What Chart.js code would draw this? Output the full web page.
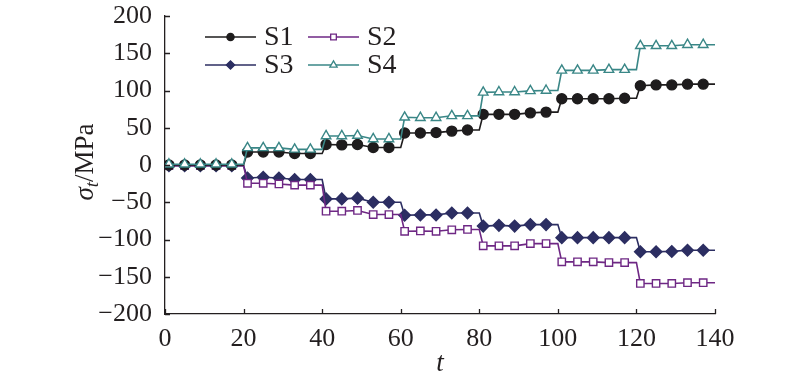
<!DOCTYPE html>
<html><head><meta charset="utf-8">
<script src="https://cdn.jsdelivr.net/npm/chart.js@4/dist/chart.umd.min.js"></script>
<style>html,body{margin:0;padding:0;background:#fff;}</style>
</head><body>
<canvas id="c" width="800" height="379"></canvas>
<script>
// time steps (marker points and stage-end points)
const tValues = [0,
  1,5,9,13,17,20,
  21,25,29,33,37,40,
  41,45,49,53,57,60,
  61,65,69,73,77,80,
  81,85,89,93,97,100,
  101,105,109,113,117,120,
  121,125,129,133,137,140];
// stage-end points (no marker drawn)
const stageEnds = [0,20,40,60,80,100,120,140];

const seriesNames = ['S1','S2','S3','S4'];
const s1 = [0,
  0,0,0,0,0,0,
  17.5,17.5,17.5,15.5,15.5,15.5,
  27.5,27,27.5,23.5,23.5,23.5,
  43,43,43.5,45.5,47,47,
  68,68,68,70,71,71,
  89,89,89,89,89.5,89.5,
  106.5,107.5,107.5,108.5,108.5,108.5];
const s2 = [-1,
  -1,-1,-1,-1,-1,-1,
  -24.5,-24.5,-25.5,-27,-27,-27,
  -62,-62,-61,-66.5,-66.5,-66.5,
  -89,-88.5,-89,-87,-86.5,-86.5,
  -108.5,-108.5,-108.5,-105.5,-105.5,-105.5,
  -130,-130,-130,-131,-131,-131,
  -159,-159,-159,-158,-158,-158];
const s3 = [-1,
  -1,-1,-1,-1,-1,-1,
  -17.5,-16.5,-17.5,-19.5,-19.5,-19.5,
  -45.5,-45.5,-44.5,-50,-50,-50,
  -67.5,-67,-67,-64.5,-64.5,-64.5,
  -82,-81,-82,-80,-80,-80,
  -97.5,-97.5,-97.5,-97.5,-97.5,-97.5,
  -116.5,-116.5,-116,-114.5,-114.5,-114.5];
const s4 = [1,
  1,1,1,1,1,1,
  23,23,23,21,21,21,
  39,39,39.5,35,35,35,
  64,63.5,63.5,66,66,66,
  97.5,98,98,99.5,100,100,
  127,127,127,128,128,128,
  160,160,160,161.5,161.5,161.5];

const xTicks = [0,20,40,60,80,100,120,140];
const yTicks = [-200,-150,-100,-50,0,50,100,150,200];

const INK = '#231f20';
const FONT = "'Liberation Serif', 'Times New Roman', serif";
const styles = [
  {color:'#1e1c1d', fill:'#1e1c1d', shape:'circle', r:5.0, lr:3.6},
  {color:'#6e2784', fill:'#ffffff', shape:'rect', r:5.2, lr:4.0},
  {color:'#2c2e62', fill:'#2c2e62', shape:'rectRot', r:5.8, lr:4.2},
  {color:'#3a8787', fill:'#ffffff', shape:'triangle', r:5.5, lr:4.2}
];
const seriesValues = [s1,s2,s3,s4];

const datasets = seriesValues.map((vals,i)=>({
  label: seriesNames[i],
  data: tValues.map((t,j)=>({x:t, y:vals[j]})),
  borderColor: styles[i].color,
  backgroundColor: styles[i].fill,
  pointBorderColor: styles[i].color,
  pointBackgroundColor: styles[i].fill,
  pointStyle: styles[i].shape,
  pointRadius: c => stageEnds.includes(tValues[c.dataIndex]) ? 0 : styles[i].r,
  pointBorderWidth: 1.4,
  borderWidth: 1.6,
  tension: 0,
  fill: false,
  order: i === 3 ? 0 : (i === 0 ? 1 : 2)
}));

function drawMarker(ctx, shape, x, y, r, stroke, fill){
  ctx.save();
  ctx.beginPath();
  if(shape==='circle'){ ctx.arc(x,y,r,0,Math.PI*2); }
  else if(shape==='rect'){ const s=r*Math.SQRT1_2; ctx.rect(x-s,y-s,2*s,2*s); }
  else if(shape==='rectRot'){ ctx.moveTo(x-r,y); ctx.lineTo(x,y-r); ctx.lineTo(x+r,y); ctx.lineTo(x,y+r); ctx.closePath(); }
  else if(shape==='triangle'){
    let a=0; ctx.moveTo(x+Math.sin(a)*r,y-Math.cos(a)*r);
    a+=2*Math.PI/3; ctx.lineTo(x+Math.sin(a)*r,y-Math.cos(a)*r);
    a+=2*Math.PI/3; ctx.lineTo(x+Math.sin(a)*r,y-Math.cos(a)*r);
    ctx.closePath();
  }
  ctx.fillStyle=fill; ctx.fill();
  ctx.lineWidth=1.3; ctx.strokeStyle=stroke; ctx.stroke();
  ctx.restore();
}

const decor = {
  id:'decor',
  afterDraw(chart){
    const ctx = chart.ctx;
    const a = chart.chartArea;
    const xs = chart.scales.x, ys = chart.scales.y;
    ctx.save();
    // inward tick marks
    ctx.strokeStyle = INK; ctx.lineWidth = 1.3;
    ctx.beginPath();
    xTicks.forEach(v=>{ const px = Math.round(xs.getPixelForValue(v))+0.5; ctx.moveTo(px,a.bottom); ctx.lineTo(px,a.bottom-5); });
    yTicks.forEach(v=>{ const py = Math.round(ys.getPixelForValue(v))+0.5; ctx.moveTo(a.left,py); ctx.lineTo(a.left+5,py); });
    ctx.stroke();

    // legend
    const rows = [[0,1],[2,3]];
    const rowY = [37, 65];
    const colX = [a.left+40, a.left+143];
    rows.forEach((row,ri)=>{
      row.forEach((si,ci)=>{
        const st = styles[si];
        const x0 = colX[ci], y = rowY[ri];
        ctx.strokeStyle = st.color; ctx.lineWidth = 1.6;
        ctx.beginPath(); ctx.moveTo(x0,y); ctx.lineTo(x0+51,y); ctx.stroke();
        drawMarker(ctx, st.shape, x0+25.5, y, st.lr, st.color, st.fill);
        ctx.fillStyle = INK; ctx.font = "28px " + FONT;
        ctx.textAlign='left'; ctx.textBaseline='middle';
        ctx.fillText(seriesNames[si], x0+59, y+1);
      });
    });

    // x title
    ctx.fillStyle = INK;
    ctx.font = "italic 27px " + FONT;
    ctx.textAlign='center'; ctx.textBaseline='alphabetic';
    ctx.fillText('t', (a.left+a.right)/2, a.bottom+57);

    // y title: σ_t/MPa rotated
    const cy = (a.top+a.bottom)/2 - 3;
    const bx = 93;
    ctx.translate(bx, cy);
    ctx.rotate(-Math.PI/2);
    const f1 = "italic 27px " + FONT, f2 = "italic 19px " + FONT, f3 = "27px " + FONT;
    ctx.font=f1; const w1 = ctx.measureText('σ').width;
    ctx.font=f2; const w2 = ctx.measureText('t').width;
    ctx.font=f3; const w3 = ctx.measureText('/MPa').width;
    let x = -(w1+w2+w3)/2;
    ctx.textAlign='left';
    ctx.font=f1; ctx.fillText('σ', x, 0); x+=w1;
    ctx.font=f2; ctx.fillText('t', x, 5); x+=w2;
    ctx.font=f3; ctx.fillText('/MPa', x, 0);
    ctx.restore();
  }
};

new Chart(document.getElementById('c'), {
  type:'line',
  data:{datasets},
  options:{
    responsive:false,
    devicePixelRatio:1,
    animation:false,
    layout:{padding:{left:0,right:85,top:16,bottom:0}},
    plugins:{legend:{display:false}, tooltip:{enabled:false}},
    scales:{
      x:{
        type:'linear', min:0, max:140,
        afterBuildTicks: s => { s.ticks = xTicks.map(v=>({value:v})); },
        ticks:{font:{family:FONT,size:26}, color:INK, padding:10, maxRotation:0},
        grid:{drawOnChartArea:false, drawTicks:false},
        border:{color:INK, width:1.3},
        afterFit: s => { s.height = 379 - 314; s.paddingLeft = 0; s.paddingRight = 0; }
      },
      y:{
        type:'linear', min:-200, max:200,
        afterBuildTicks: s => { s.ticks = yTicks.map(v=>({value:v})); },
        ticks:{font:{family:FONT,size:26}, color:INK, padding:13,
          callback: v => v < 0 ? '\u2212' + Math.abs(v) : String(v)},
        grid:{drawOnChartArea:false, drawTicks:false},
        border:{color:INK, width:1.3},
        afterFit: s => { s.width = 165; s.paddingTop = 0; s.paddingBottom = 0; }
      }
    }
  },
  plugins:[decor]
});
</script>
</body></html>
